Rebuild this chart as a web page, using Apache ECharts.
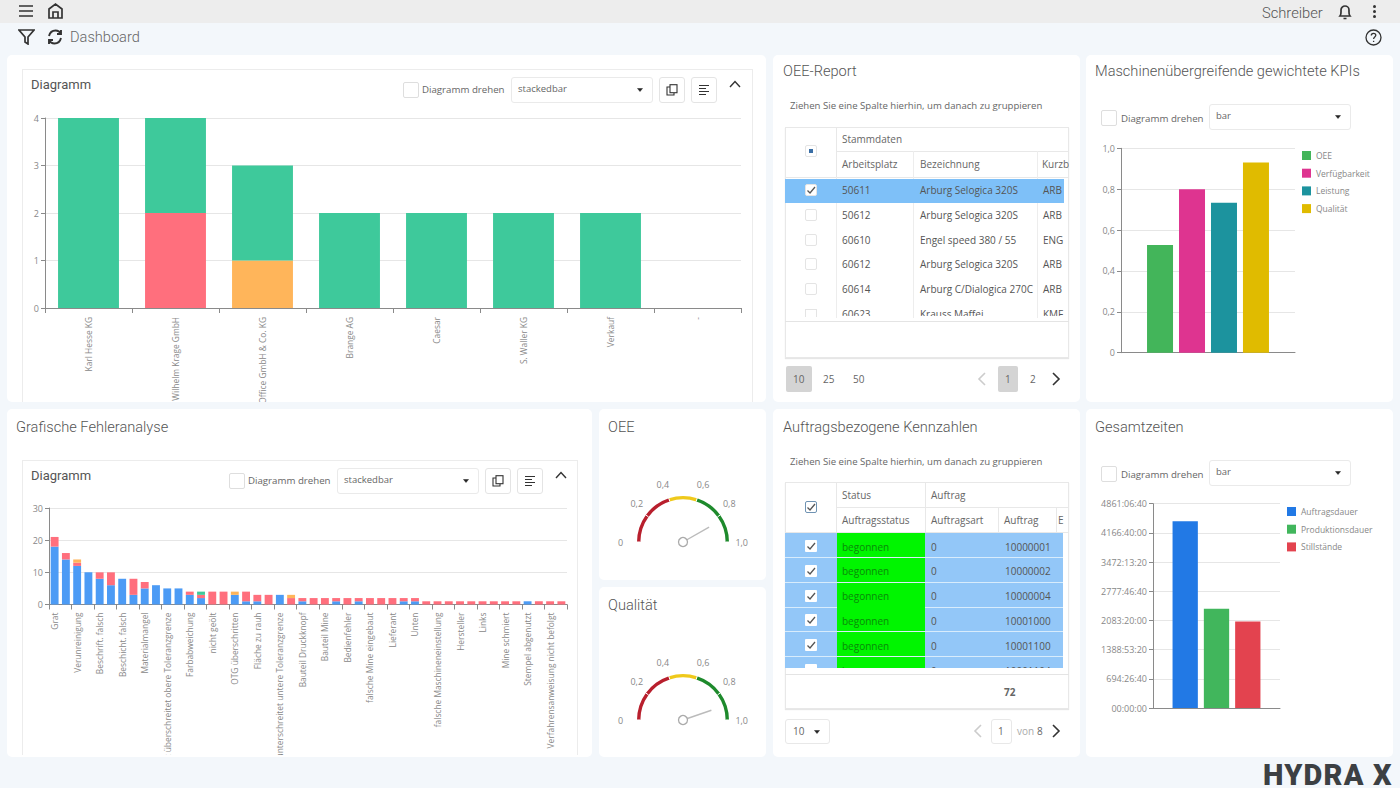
<!DOCTYPE html>
<html>
<head>
<meta charset="utf-8">
<title>Dashboard</title>
<script src="https://cdn.jsdelivr.net/npm/echarts@6/dist/echarts.min.js"></script>
<style>
  html, body { margin: 0; padding: 0; width: 1400px; height: 788px; overflow: hidden; background: #f3f7fb; }
  body { position: relative; font-family: "Open Sans", sans-serif; color: #666; }
  .abs { position: absolute; white-space: nowrap; box-sizing: border-box; }
  .card { background: #fff; border-radius: 5px; }
  .title { font-family: Roboto, sans-serif; font-weight: 300; font-size: 14.6px; color: #555; line-height: 18px; }
  .small { font-size: 10px; line-height: 14px; color: #666; }
  .chart { position: absolute; overflow: hidden; }
  svg.icon { position: absolute; fill: none; stroke: #333; stroke-width: 1.7; }
</style>
</head>
<body>
<script>
// chart 1, Diagramm
const customerNames = ["Karl Hesse KG", "Wilhelm Krage GmbH", "Office GmbH & Co. KG", "Brange AG", "Caesar", "S. Waller KG", "Verkauf", "-"];
const customerGreen = [4, 2, 2, 2, 2, 2, 2, 0];
const customerRed = [0, 2, 0, 0, 0, 0, 0, 0];
const customerOrange = [0, 0, 1, 0, 0, 0, 0, 0];

// chart 2, Grafische Fehleranalyse
const defectNames = ["Grat", "", "Verunreinigung", "", "Beschrift. falsch", "", "Beschicht. falsch", "", "Materialmangel", "",
  "Wert überschreitet obere Toleranzgrenze", "", "Farbabweichung", "", "nicht geölt", "", "OTG überschritten", "", "Fläche zu rauh", "",
  "Wert unterschreitet untere Toleranzgrenze", "", "Bauteil Druckknopf", "", "Bauteil Mine", "", "Bedienfehler", "", "falsche Mine eingebaut", "",
  "Lieferant", "", "Unten", "", "falsche Maschineneinstellung", "", "Hersteller", "", "Links", "",
  "Mine schmiert", "", "Stempel abgenutzt", "", "Verfahrensanweisung nicht befolgt", ""];
const defectBlue = [18, 14, 12, 10, 8, 6, 8, 3, 5, 6, 5, 5, 3, 2, 0, 0, 3, 1, 1, 0, 3, 0, 1, 0, 0, 1, 0, 1, 0, 0, 0, 1, 1, 0, 0, 0, 0, 0, 0, 0, 0, 0, 1, 0, 0, 0];
const defectRed = [3, 2, 1, 0, 2, 4, 0, 5, 2, 0, 0, 0, 1, 1, 4, 4, 0, 3, 2, 3, 0, 2, 1, 2, 2, 1, 2, 1, 2, 2, 2, 1, 1, 1, 1, 1, 1, 1, 1, 1, 1, 1, 0, 1, 1, 1];
const defectGreen = [0, 0, 0, 0, 0, 0, 0, 0, 0, 0, 0, 0, 0, 1, 0, 0, 0, 0, 0, 0, 0, 0, 0, 0, 0, 0, 0, 0, 0, 0, 0, 0, 0, 0, 0, 0, 0, 0, 0, 0, 0, 0, 0, 0, 0, 0];
const defectOrange = [0, 0, 1, 0, 0, 0, 0, 0, 0, 0, 0, 0, 0, 0, 0, 0, 1, 0, 0, 0, 0, 1, 0, 0, 0, 0, 0, 0, 0, 0, 0, 0, 0, 0, 0, 0, 0, 0, 0, 0, 0, 0, 0, 0, 0, 0];

// gauges
const oeeGaugeValue = 0.836;
const qualityGaugeValue = 0.895;

// KPI bars
const kpiNames = ["OEE", "Verfügbarkeit", "Leistung", "Qualität"];
const kpiValues = [0.527, 0.8, 0.734, 0.931];
const kpiColors = ["#43b55a", "#de3490", "#1c939e", "#e0bb00"];

// Gesamtzeiten in Sekunden
const timeNames = ["Auftragsdauer", "Produktionsdauer", "Stillstände"];
const timeValues = [16000000, 8500000, 7420000];
const timeColors = ["#2279e5", "#41b65c", "#e3434f"];

// tables
const oeeColumns = ["Arbeitsplatz", "Bezeichnung", "Kurzb"];
const oeeRows = [
  ["50611", "Arburg Selogica 320S", "ARB"],
  ["50612", "Arburg Selogica 320S", "ARB"],
  ["60610", "Engel speed 380 / 55", "ENG"],
  ["60612", "Arburg Selogica 320S", "ARB"],
  ["60614", "Arburg C/Dialogica 270C", "ARB"],
  ["60623", "Krauss Maffei", "KMF"],
];
const orderNumbers = ["10000001", "10000002", "10000004", "10001000", "10001100", "10001104"];

const green = "#3ec99b", red = "#ff6f7d", orange = "#ffb55a", blue = "#4c9bf5";
const axisGray = "#8a8a8a", splitGray = "#e6e6e6", labelGray = "#888";
const fontName = "Open Sans";
const hintStyle = "font-size:9.6px;";
const pickerStyle = "font-size:9.7px;";

function put(x, y, w, h, style, text, cls) {
  const el = document.createElement("div");
  el.className = "abs " + (cls || "");
  el.style.cssText = `left:${x}px;top:${y}px;` + (w ? `width:${w}px;` : "") + (h ? `height:${h}px;` : "") + (style || "");
  if (text !== undefined) el.textContent = text;
  document.body.appendChild(el);
  return el;
}

function text(x, cy, str, style, cls) {
  return put(x, cy - 7, 0, 14, "line-height:14px;" + (style || ""), str, cls || "small");
}

function icon(x, y, w, h, body, style) {
  const wrap = document.createElementNS("http://www.w3.org/2000/svg", "svg");
  wrap.setAttribute("class", "icon");
  wrap.setAttribute("viewBox", `0 0 ${w} ${h}`);
  wrap.setAttribute("width", w);
  wrap.setAttribute("height", h);
  wrap.style.cssText = `left:${x}px;top:${y}px;` + (style || "");
  wrap.innerHTML = body;
  document.body.appendChild(wrap);
}

function checkbox(cx, cy, size, state, borderColor) {
  const border = borderColor || (state === "big" ? "#dedede" : "#e4e4e4");
  put(cx - size / 2, cy - size / 2, size, size, `background:#fff;border:1px solid ${border};border-radius:2px;`);
  if (state === "on") icon(cx - 6, cy - 6, 12, 12, '<path d="M2.5 6.5 L5 9 L10 3"/>', "stroke:#555;stroke-width:1.3;");
  if (state === "mixed") put(cx - 2, cy - 2, 4, 4, "background:#3a6ea5;");
}

function dropdown(x, y, w, h, label) {
  put(x, y, w, h, "background:#fff;border:1px solid #eaeaea;border-radius:3px;");
  text(x + 7, y + h / 2 - 1, label, "font-size:9.5px;");
  icon(x + w - 16, y + h / 2 - 2, 6, 4, '<path d="M0.5 0.5 L5.5 0.5 L3 3.5 Z" fill="#222"/>', "stroke:#222;stroke-width:0.5;");
}

function pickerRow(checkX, selectX, cy, label) {
  checkbox(checkX, cy, 16, "big");
  text(checkX + 12, cy + 1, "Diagramm drehen", pickerStyle);
  dropdown(selectX, cy - 14, 142, 26, label);
}

function dots(x, cy) {
  [-5, 0, 5].forEach((d) => put(x - 1.5, cy + d - 1.5, 3, 3, "background:#333;border-radius:50%;"));
}

function pageArrow(cx, cy, dir, color) {
  const path = dir < 0 ? "M8 1 L2 7 L8 13" : "M2 1 L8 7 L2 13";
  icon(cx - 5, cy - 7, 10, 14, `<path d="${path}"/>`, `stroke:${color};stroke-width:1.6;`);
}

function buildChrome() {
  put(0, 0, 1400, 23, "background:#ededed;");
  icon(18, 4, 16, 14, '<path d="M1 2 H15 M1 7 H15 M1 12 H15"/>');
  icon(47, 2, 17, 18, '<path d="M2 16 V7 L8.5 2 L15 7 V16 Z M6 16 V10 H11 V16"/>');
  put(1262, 4, 0, 18, "font-family:Roboto;font-weight:300;font-size:14.7px;line-height:18px;color:#555;", "Schreiber");
  icon(1337, 3, 16, 18, '<path d="M3 13 C4.5 11 4 9 4 7 C4 4.5 6 3 8 3 C10 3 12 4.5 12 7 C12 9 11.5 11 13 13 Z M6.5 15.5 H9.5"/>');
  dots(1374, 11);

  icon(18, 29, 17, 16, '<path d="M1 1 H16 L10 8 V15 L7 13 V8 Z"/>');
  icon(46, 28, 18, 18, '<path d="M3 8 C4 4 7 2.5 9.5 2.5 C12 2.5 14 4 15 6 M15 2 V6 H11 M15 10 C14 14 11 15.5 8.5 15.5 C6 15.5 4 14 3 12 M3 16 V12 H7"/>', "stroke-width:1.9;");
  put(70, 28, 0, 18, "font-family:Roboto;font-weight:300;font-size:14.6px;line-height:18px;color:#666;", "Dashboard");
  icon(1365, 29, 17, 17, '<circle cx="8.5" cy="8.5" r="7.5"/><path d="M6.3 6.5 C6.3 5 7.5 4.3 8.5 4.3 C9.8 4.3 10.8 5.2 10.8 6.3 C10.8 8 8.6 8 8.6 10"/><path d="M8.6 11.8 V13"/>', "stroke-width:1.3;");

  [[7, 55, 759, 347], [773, 55, 307, 347], [1086, 55, 307, 347],
   [7, 409, 585, 348], [599, 409, 167, 171], [599, 587, 167, 170],
   [773, 409, 307, 348], [1086, 409, 307, 348]].forEach((c) => put(c[0], c[1], c[2], c[3], "", undefined, "card"));

  [["OEE-Report", 783, 71], ["Maschinenübergreifende gewichtete KPIs", 1095, 71], ["Grafische Fehleranalyse", 16, 427],
   ["OEE", 608, 427], ["Qualität", 608, 605], ["Auftragsbezogene Kennzahlen", 783, 427], ["Gesamtzeiten", 1095, 427]]
    .forEach((t) => put(t[1], t[2] - 9, 0, 18, "", t[0], "title"));

  // inner panels of the two stacked bar charts
  put(22, 69, 731, 333, "border:1px solid #ececec;border-bottom:none;");
  put(22, 460, 556, 295, "border:1px solid #ececec;border-bottom:none;");
  panelHeader(31, 85, 411, 90, 511, 659);
  panelHeader(31, 476, 237, 481, 337, 485);

  pickerRow(1109, 1209, 118, "bar");
  pickerRow(1109, 1209, 474, "bar");

  put(1263, 762, 0, 26, "font-family:Roboto;font-weight:900;font-size:29px;line-height:26px;letter-spacing:1.2px;color:#3c4043;", "HYDRA X");
}

function panelHeader(titleX, titleY, checkX, checkY, selectX, btnX) {
  put(titleX, titleY - 9, 0, 18, "font-family:Roboto;font-weight:400;font-size:13px;line-height:18px;color:#555;", "Diagramm");
  checkbox(checkX, checkY, 16, "big");
  text(checkX + 11, checkY, "Diagramm drehen", pickerStyle);
  dropdown(selectX, checkY - 13, 142, 26, "stackedbar");
  put(btnX, checkY - 13, 26, 26, "border:1px solid #e4e4e4;border-radius:3px;background:#fff;");
  put(btnX + 32, checkY - 13, 26, 26, "border:1px solid #e4e4e4;border-radius:3px;background:#fff;");
  icon(btnX + 7, checkY - 6, 12, 12, '<rect x="4" y="0.7" width="7" height="8"/><path d="M4 3 H1 V11 H8 V9"/>', "stroke-width:1.1;");
  icon(btnX + 39, checkY - 6, 12, 12, '<path d="M1 1.5 H11 M1 4.5 H8 M1 7.5 H11 M1 10.5 H8"/>', "stroke-width:1;");
  icon(btnX + 70, checkY - 10, 12, 8, '<path d="M1 7 L6 1.5 L11 7"/>', "stroke-width:1.4;");
}

function buildOeeTable() {
  text(790, 106, "Ziehen Sie eine Spalte hierhin, um danach zu gruppieren", hintStyle);
  put(785, 127, 284, 231, "border:1px solid #e8e8e8;box-shadow:0 1px 1px #e6e6e6;");
  put(836, 127, 1, 50, "background:#e8e8e8;");
  put(836, 151, 233, 1, "background:#e8e8e8;");
  put(785, 177, 284, 1, "background:#e8e8e8;");
  text(842, 139, "Stammdaten");
  [842, 920, 1042].forEach((x, i) => {
    const t = text(x, 164, oeeColumns[i]);
    if (i === 2) { t.style.width = "27px"; t.style.overflow = "hidden"; }
  });
  put(913, 151, 1, 167, "background:#ededed;");
  put(1037, 151, 1, 167, "background:#ededed;");
  put(836, 177, 1, 141, "background:#ededed;");
  checkbox(811, 151, 12, "mixed");
  put(785, 179, 279, 24, "background:#7ec0f8;");

  const clipper = put(785, 178, 284, 138, "overflow:hidden;");
  oeeRows.forEach((row, i) => {
    const cy = 12 + i * 24.8;
    const hold = document.createElement("div");
    hold.style.cssText = "position:absolute;left:0;top:" + (cy - 7) + "px;line-height:14px;font-size:10px;color:#555;white-space:nowrap;";
    [[57, row[0]], [135, row[1]], [258, row[2]]].forEach((c) => {
      const s = document.createElement("span");
      s.style.cssText = "position:absolute;left:" + c[0] + "px;";
      s.textContent = c[1];
      hold.appendChild(s);
    });
    clipper.appendChild(hold);
  });
  oeeRows.slice(0, 5).forEach((r, i) => checkbox(811, 190 + i * 24.8, 12, i === 0 ? "on" : "off"));
  put(805, 309, 12, 8, "background:#fff;border:1px solid #e4e4e4;border-bottom:none;");
  put(785, 321, 284, 1, "background:#e4e4e4;");

  put(786, 366, 26, 26, "background:#d4d4d4;border-radius:2px;");
  text(793, 379, "10");
  text(823, 379, "25");
  text(853, 379, "50");
  pageArrow(982, 379, -1, "#ccc");
  put(998, 366, 20, 26, "background:#d4d4d4;border-radius:2px;");
  text(1005, 379, "1");
  text(1030, 379, "2");
  pageArrow(1056, 379, 1, "#333");
}

function buildOrderTable() {
  text(790, 462, "Ziehen Sie eine Spalte hierhin, um danach zu gruppieren", hintStyle);
  put(785, 482, 284, 227, "border:1px solid #e8e8e8;box-shadow:0 1px 1px #e6e6e6;");
  put(836, 482, 1, 50, "background:#e8e8e8;");
  put(925, 482, 1, 50, "background:#e8e8e8;");
  put(836, 507, 233, 1, "background:#e8e8e8;");
  put(785, 532, 284, 1, "background:#e8e8e8;");
  put(998, 507, 1, 25, "background:#e8e8e8;");
  put(1056, 507, 1, 25, "background:#e8e8e8;");
  text(842, 495, "Status");
  text(931, 495, "Auftrag");
  text(842, 520, "Auftragsstatus");
  text(931, 520, "Auftragsart");
  text(1004, 520, "Auftrag");
  text(1058, 520, "E", "width:8px;overflow:hidden;");
  checkbox(811, 507, 12, "on", "#6f93b3");

  const clipper = put(785, 533, 278, 135, "overflow:hidden;background:#93c7f8;");
  orderNumbers.forEach((num, i) => {
    const top = i * 24.8;
    const bar = document.createElement("div");
    bar.style.cssText = `position:absolute;left:52px;top:${top}px;width:88px;height:25px;background:#00f500;`;
    clipper.appendChild(bar);
    [[57, "begonnen", "#0a8a0a"], [146, "0", "#555"], [220, num, "#555"]].forEach((c) => {
      const s = document.createElement("span");
      s.style.cssText = `position:absolute;left:${c[0]}px;top:${top + 6.5}px;line-height:14px;font-size:10px;color:${c[2]};`;
      s.textContent = c[1];
      clipper.appendChild(s);
    });
    const line = document.createElement("div");
    line.style.cssText = `position:absolute;left:0;top:${top + 24}px;width:278px;height:1px;background:#d8ecfc;`;
    clipper.appendChild(line);
    const box = document.createElement("div");
    box.style.cssText = `position:absolute;left:20px;top:${top + 7}px;width:12px;height:12px;background:#fff;border-radius:1px;box-sizing:border-box;`;
    clipper.appendChild(box);
  });
  orderNumbers.slice(0, 5).forEach((n, i) => icon(805, 540 + i * 24.8, 12, 12, '<path d="M2.5 6.5 L5 9 L10 3"/>', "stroke:#555;stroke-width:1.3;"));
  put(785, 674, 284, 1, "background:#e4e4e4;");
  text(1004, 692, "72", "font-weight:700;");

  put(785, 719, 45, 25, "border:1px solid #e8e8e8;border-radius:3px;");
  text(793, 731, "10");
  icon(814, 730, 6, 4, '<path d="M0.5 0.5 L5.5 0.5 L3 3.5 Z" fill="#222"/>', "stroke:#222;stroke-width:0.5;");
  pageArrow(978, 731, -1, "#ccc");
  put(991, 719, 21, 25, "border:1px solid #e8e8e8;border-radius:3px;");
  text(998, 731, "1");
  text(1017, 731, "von", "color:#aaa;");
  text(1037, 731, "8");
  pageArrow(1056, 731, 1, "#333");
}

function makeChart(x, y, w, h, option) {
  const el = put(x, y, w, h, "", undefined, "chart");
  const chart = echarts.init(el, null, { renderer: "svg", width: w, height: h });
  chart.setOption(Object.assign({ animation: false, textStyle: { fontFamily: fontName } }, option));
  return chart;
}

function valueAxis(max, interval, fmt, fontSize) {
  return {
    type: "value", min: 0, max: max, interval: interval,
    axisLine: { show: true, lineStyle: { color: axisGray, width: 1 } },
    axisTick: { show: true, length: 4, lineStyle: { color: axisGray } },
    splitLine: { show: true, lineStyle: { color: splitGray, width: 1 } },
    axisLabel: { color: labelGray, fontSize: fontSize, margin: 6, formatter: fmt, fontFamily: fontName },
  };
}

function categoryAxis(names, interval, margin) {
  return {
    type: "category", data: names,
    axisLine: { show: true, lineStyle: { color: axisGray, width: 1 } },
    axisTick: { show: true, length: 5, alignWithLabel: false, lineStyle: { color: axisGray } },
    splitLine: { show: false },
    axisLabel: {
      rotate: 90, interval: interval, hideOverlap: false, color: labelGray, fontSize: 8.4,
      margin: margin, fontFamily: fontName,
    },
  };
}

function stackBar(name, data, color) {
  return { name: name, type: "bar", stack: "total", data: data, barCategoryGap: "30%", itemStyle: { color: color } };
}

function buildCharts() {
  makeChart(24, 105, 727, 297, {
    grid: { left: 21, right: 10, top: 13, bottom: 94, outerBoundsMode: "none" },
    xAxis: categoryAxis(customerNames, 0, 9),
    yAxis: valueAxis(4, 1, undefined, 9),
    series: [
      stackBar("Rot", customerRed, red),
      stackBar("Orange", customerOrange, orange),
      stackBar("Grün", customerGreen, green),
    ],
  });

  makeChart(24, 496, 552, 259, {
    grid: { left: 25, right: 9, top: 12, bottom: 150.5, outerBoundsMode: "none" },
    xAxis: categoryAxis(defectNames, 1, 8),
    yAxis: valueAxis(30, 10, undefined, 9),
    series: [
      stackBar("Blau", defectBlue, blue),
      stackBar("Rot", defectRed, red),
      stackBar("Grün", defectGreen, green),
      stackBar("Orange", defectOrange, orange),
    ],
  });

  const gaugeLabel = (v) => (v === 0 ? "0" : v.toFixed(1).replace(".", ","));
  const makeGauge = (y, value) => makeChart(599, y, 167, 110, {
    series: [{
      type: "gauge", center: [84, 82], radius: 46, startAngle: 180, endAngle: 0,
      min: 0, max: 1, splitNumber: 5,
      axisLine: { lineStyle: { width: 3.4, color: [[0.4, "#b81f2d"], [0.6, "#efc91b"], [1, "#1e8a2c"]] } },
      axisTick: { show: false },
      splitLine: { show: true, length: 4, distance: -4, lineStyle: { color: "#fff", width: 1 } },
      axisLabel: { distance: -19, color: labelGray, fontSize: 9, fontFamily: fontName, formatter: gaugeLabel },
      pointer: { icon: "rect", length: 30, width: 1.4, offsetCenter: [0, 0], itemStyle: { color: "#bbb" } },
      anchor: { show: true, showAbove: true, size: 9, itemStyle: { color: "#fff", borderColor: "#aaa", borderWidth: 1.3 } },
      title: { show: false },
      detail: { show: false },
      data: [{ value: value }],
    }],
  });
  makeGauge(460, oeeGaugeValue);
  makeGauge(638, qualityGaugeValue);

  const commaLabel = (v) => (v === 0 ? "0" : v.toFixed(1).replace(".", ","));
  makeChart(1090, 135, 300, 240, {
    grid: { left: 31, right: 95, top: 13.3, bottom: 22.3, outerBoundsMode: "none" },
    legend: {
      orient: "vertical", left: 207, top: 11, itemWidth: 9, itemHeight: 9, itemGap: 8.7,
      icon: "rect", textStyle: { color: labelGray, fontSize: 8.5, fontFamily: fontName },
    },
    xAxis: { type: "category", data: [""], axisLine: { lineStyle: { color: axisGray } }, axisTick: { show: false }, axisLabel: { show: false } },
    yAxis: valueAxis(1, 0.2, commaLabel, 9),
    series: kpiNames.map((name, i) => ({
      name: name, type: "bar", data: [kpiValues[i]], barWidth: 26, barGap: "23%", itemStyle: { color: kpiColors[i] },
    })),
  });

  const clock = (sec) => {
    const h = Math.floor(sec / 3600), m = Math.floor((sec % 3600) / 60), s = Math.round(sec % 60);
    const two = (n) => String(n).padStart(2, "0");
    return two(h) + ":" + two(m) + ":" + two(s);
  };
  makeChart(1090, 490, 300, 240, {
    grid: { left: 63, right: 110, top: 13.7, bottom: 22, outerBoundsMode: "none" },
    legend: {
      orient: "vertical", left: 192, top: 12, itemWidth: 9, itemHeight: 9, itemGap: 8.7,
      icon: "rect", textStyle: { color: labelGray, fontSize: 8.5, fontFamily: fontName },
    },
    xAxis: { type: "category", data: [""], axisLine: { lineStyle: { color: axisGray } }, axisTick: { show: false }, axisLabel: { show: false } },
    yAxis: valueAxis(17500000, 2500000, clock, 9),
    series: timeNames.map((name, i) => ({
      name: name, type: "bar", data: [timeValues[i]], barWidth: 25.3, barGap: "23.7%", itemStyle: { color: timeColors[i] },
    })),
  });
}

buildChrome();
buildOeeTable();
buildOrderTable();
buildCharts();
</script>
</body>
</html>
